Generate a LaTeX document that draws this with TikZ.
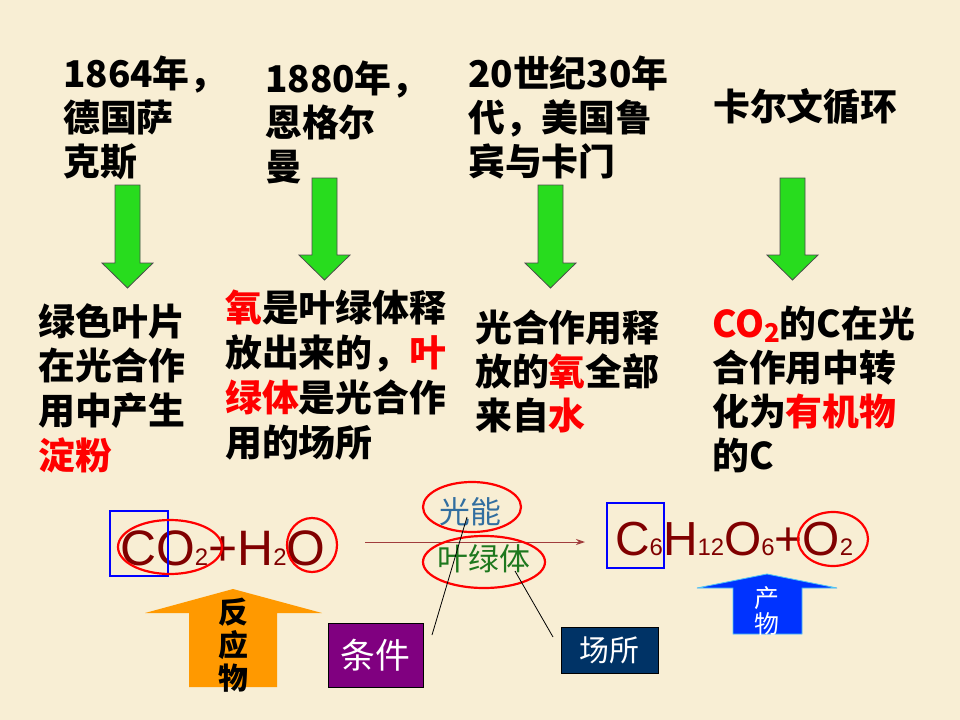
\documentclass[tikz,border=0pt]{standalone}
\usepackage{fontspec}
\setmainfont{Noto Sans CJK SC}
\newfontfamily\eqfont{Liberation Sans}
\usetikzlibrary{arrows.meta,shapes.geometric}
\definecolor{paper}{RGB}{248,238,212}
\definecolor{arrowgreen}{RGB}{40,220,30}
\definecolor{eqred}{RGB}{128,0,0}
\definecolor{hlred}{RGB}{255,0,0}
\definecolor{rxline}{RGB}{160,60,60}
\definecolor{lightblue}{RGB}{50,110,160}
\definecolor{chlgreen}{RGB}{30,120,30}
\definecolor{condpurple}{RGB}{128,0,128}
\definecolor{sitenavy}{RGB}{0,51,102}
\definecolor{reactorange}{RGB}{255,153,0}
\definecolor{prodblue}{RGB}{0,51,255}
\newcommand\chemsub[1]{{\fontsize{24}{24}\selectfont #1}}
\newcommand\hl[1]{\textcolor{hlred}{#1}}
\tikzset{
  note/.style={anchor=north west, inner sep=0pt, align=left, font=\fontsize{37}{44}\selectfont\bfseries},
  downarrow/.style={fill=arrowgreen, draw=black!70, line width=0.8bp},
  ring/.style={draw=red, line width=2.2bp, ellipse, inner sep=0pt},
  frame/.style={draw=blue, line width=2.5bp},
  eq/.style={anchor=base west, inner sep=0pt, text=eqred, font=\eqfont\fontsize{48}{48}\selectfont},
  tag/.style={draw=black, line width=0.8bp, text=white, inner sep=0pt},
}
\begin{document}
\begin{tikzpicture}[x=1bp, y=-1bp]
    \fill[paper] (0,0) rectangle (960,720);
    \useasboundingbox (0,0) rectangle (960,720);

    \node[note] (who1) at (63,56)  {1864年，\\德国萨\\克斯};
    \node[note] (who2) at (265,61) {1880年，\\恩格尔\\曼};
    \node[note] (who3) at (468,56) {20世纪30年\\代，美国鲁\\宾与卡门};
    \node[note] (who4) at (713,88) {卡尔文循环};

    \draw[downarrow] (115,185) -- (140,185) -- (140,263) -- (153,263) -- (127.5,288) -- (102,263) -- (115,263) -- cycle;
    \draw[downarrow] (312,178) -- (337,178) -- (337,255) -- (350,255) -- (324.5,280) -- (299,255) -- (312,255) -- cycle;
    \draw[downarrow] (538,185) -- (563,185) -- (563,263) -- (576,263) -- (550.5,288) -- (525,263) -- (538,263) -- cycle;
    \draw[downarrow] (780,178) -- (805,178) -- (805,255) -- (818,255) -- (792.5,280) -- (767,255) -- (780,255) -- cycle;

    \node[note, font=\fontsize{37}{45}\selectfont\bfseries] (find1) at (38,303)  {绿色叶片\\在光合作\\用中产生\\\hl{淀粉}};
    \node[note, font=\fontsize{37}{45}\selectfont\bfseries] (find2) at (225,290) {\hl{氧}是叶绿体释\\放出来的，\hl{叶}\\\hl{绿体}是光合作\\用的场所};
    \node[note, font=\fontsize{37}{44}\selectfont\bfseries] (find3) at (475,310) {光合作用释\\放的\hl{氧}全部\\来自\hl{水}};
    \node[note, font=\fontsize{37}{44}\selectfont\bfseries] (find4) at (712,306) {\hl{CO\raisebox{-5bp}{\fontsize{26}{26}\selectfont 2}}的C在光\\合作用中转\\化为\hl{有机物}\\的C};

    \node[eq, font=\eqfont\fontsize{50}{50}\selectfont] (lhs) at (120,565) {CO\chemsub{2}+H\chemsub{2}O};
    \node[eq] (rhs) at (615,555) {C\chemsub{6}H\chemsub{12}O\chemsub{6}+O\chemsub{2}};

    \coordinate (rxa) at (365,542);
    \coordinate (rxb) at (585,542);
    \draw[-{Stealth[length=9bp,width=6bp]}, draw=rxline, fill=rxline, line width=1bp] (rxa) -- (rxb);

    \node[inner sep=0pt, text=lightblue, font=\fontsize{31}{31}\selectfont] (light) at (470,512) {光能};
    \node[inner sep=0pt, text=chlgreen, font=\fontsize{31}{31}\selectfont] (chloro) at (484,559) {叶绿体};

    \draw[frame] (110,511) rectangle (168,576);
    \draw[frame] (607,503) rectangle (664,568);
    \node[ring, minimum width=104bp, minimum height=54bp] (ovCO) at (170,547) {};
    \node[ring, minimum width=50bp, minimum height=54bp] (ovO) at (312,545) {};
    \node[ring, minimum width=70bp, minimum height=54bp] (ovOO) at (833,539) {};
    \node[ring, minimum width=98bp, minimum height=50bp] (ovLight) at (472,507) {};
    \node[ring, minimum width=122bp, minimum height=52bp] (ovChloro) at (484,562) {};

    \fill[reactorange] (189,687) -- (189,613) -- (145,613) -- (233,589) -- (322,613) -- (277,613) -- (277,687) -- cycle;
    \node[inner sep=0pt, align=center, font=\fontsize{30}{33}\selectfont\bfseries] (react) at (233,645) {反\\应\\物};

    \draw[fill=prodblue, draw=cyan!70, line width=0.8bp] (733,634) -- (733,588) -- (697,588) -- (767,574) -- (837,588) -- (802,588) -- (802,634) -- cycle;
    \node[inner sep=0pt, align=center, text=white, font=\fontsize{25}{26}\selectfont] (prod) at (767,611) {产\\物};

    \node[tag, fill=condpurple, minimum width=95bp, minimum height=64bp, font=\fontsize{35}{35}\selectfont] (cond) at (375.5,655) {条件};
    \node[tag, fill=sitenavy, minimum width=97bp, minimum height=46bp, font=\fontsize{30}{30}\selectfont] (site) at (609.5,650) {场所};

    \coordinate (condend) at (432,635);
    \coordinate (siteend) at (553,637);
    \draw[line width=0.8bp] ([shift={(-3,5)}]light.center) -- (condend);
    \draw[line width=0.8bp] ([shift={(31,12)}]chloro.center) -- (siteend);
\end{tikzpicture}
\end{document}
